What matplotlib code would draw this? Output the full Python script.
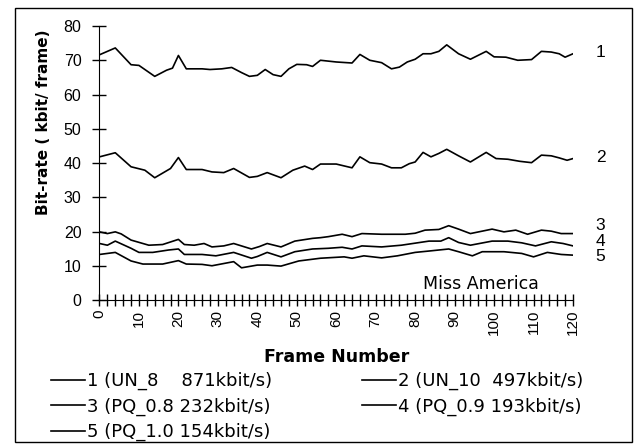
import matplotlib.pyplot as plt
from matplotlib.patches import Rectangle
from matplotlib.ticker import MultipleLocator

# series (frame number, kbit/frame)
frames_1 = [0, 4, 8, 10, 14, 17, 18.5, 20, 22, 26, 28, 31, 33.5, 36, 38, 40, 42, 44, 46, 48, 50, 52.5, 54, 56,
            60, 64, 66, 68.5, 71.5, 74, 76, 78, 80, 82, 84, 86, 88, 91, 94, 98, 100, 103, 106, 109.5, 112, 114.5,
            116.5, 118, 120]
rate_1 = [71.6, 73.6, 68.7, 68.5, 65.3, 67.1, 67.7, 71.4, 67.5, 67.5, 67.3, 67.5, 67.9, 66.4, 65.3, 65.6, 67.3,
          65.8, 65.3, 67.5, 68.8, 68.7, 68.2, 70, 69.5, 69.2, 71.7, 70, 69.3, 67.5, 68, 69.5, 70.3, 71.9, 71.9,
          72.6, 74.5, 71.9, 70.3, 72.6, 71, 70.9, 70, 70.2, 72.6, 72.4, 71.9, 70.9, 71.9]

frames_2 = [0, 4, 8, 11.5, 14, 18, 20, 22, 26, 28.5, 31.5, 34, 38, 40, 42.5, 46, 49, 52, 54, 56, 60, 64, 66, 68.5,
            71.5, 74, 76.5, 78.5, 80, 82, 84, 86, 88, 91, 94, 98, 100.5, 103.5, 106.5, 109.5, 112, 114.5, 116.5,
            118.5, 120]
rate_2 = [41.8, 43, 38.9, 37.9, 35.7, 38.4, 41.6, 38.1, 38.1, 37.4, 37.2, 38.4, 35.8, 36.1, 37.2, 35.7, 37.9, 39.1,
          38.1, 39.7, 39.7, 38.6, 41.8, 40.1, 39.7, 38.6, 38.6, 39.8, 40.3, 43.1, 41.8, 42.8, 44, 42.1, 40.3, 43.1,
          41.3, 41.1, 40.5, 40.1, 42.3, 42.1, 41.5, 40.8, 41.3]

frames_3 = [0, 2, 4, 5.5, 8, 12.5, 16, 20, 21.5, 24, 26.5, 28.5, 31.5, 34, 38.5, 40.5, 42.5, 46, 49.5, 54, 56, 58,
            61.5, 64, 66.5, 71.5, 77.5, 80, 82.5, 86, 88.5, 91, 94, 99.5, 102.5, 105.5, 108.5, 112, 114.5, 117, 120]
rate_3 = [19.9, 19.4, 19.9, 19.3, 17.5, 16, 16.2, 17.7, 16.2, 16, 16.5, 15.5, 15.8, 16.5, 14.9, 15.6, 16.5, 15.5,
          17.2, 18, 18.2, 18.5, 19.2, 18.5, 19.4, 19.2, 19.2, 19.5, 20.4, 20.6, 21.7, 20.7, 19.4, 20.7, 19.9, 20.4,
          19.2, 20.4, 20.1, 19.4, 19.4]

frames_4 = [0, 2, 4, 8, 10, 13.5, 17.5, 20, 21.5, 26, 29.5, 34, 38.5, 40, 42.5, 46, 49.5, 54, 58, 61.5, 64, 66.5,
            71.5, 76.5, 80, 83.5, 86.5, 88.5, 91, 94, 99.5, 103.5, 107, 110.5, 114.5, 117.5, 120]
rate_4 = [16.5, 16, 17.2, 15.1, 13.9, 13.9, 14.6, 14.9, 13.3, 13.3, 12.9, 13.9, 12.2, 12.7, 13.9, 12.6, 14.1, 14.9,
          15.1, 15.4, 14.9, 15.8, 15.5, 16, 16.6, 17.2, 17.2, 18.2, 16.8, 16, 17.2, 17.2, 16.7, 15.8, 17, 16.5, 15.8]

frames_5 = [0, 4, 8, 11, 16, 20, 22, 26, 28.5, 34, 36, 40, 42.5, 46, 50.5, 56, 62, 64, 67, 71.5, 75.5, 80, 83.5,
            88.5, 91, 94.5, 97, 102.5, 107, 110, 113.5, 117, 120]
rate_5 = [13.3, 13.9, 11.4, 10.5, 10.5, 11.5, 10.5, 10.4, 10, 11.2, 9.4, 10.2, 10.2, 9.9, 11.4, 12.2, 12.6, 12.2,
          12.9, 12.3, 12.9, 13.9, 14.3, 14.9, 14.1, 12.9, 14.1, 14.1, 13.6, 12.6, 13.9, 13.3, 13.1]

legend_labels = ["1 (UN_8    871kbit/s)", "2 (UN_10  497kbit/s)", "3 (PQ_0.8 232kbit/s)",
                 "4 (PQ_0.9 193kbit/s)", "5 (PQ_1.0 154kbit/s)"]
end_labels = ["1", "2", "3", "4", "5"]
end_label_y = [72.3, 41.5, 21.9, 17.0, 12.6]

plt.rcParams['font.family'] = ['Liberation Sans', 'DejaVu Sans']
wide = ['DejaVu Sans']  # the scanned text is stretched sideways

fig = plt.figure(figsize=(6.39, 4.44), dpi=100)
ax = fig.add_axes([0.1557, 0.3243, 0.7410, 0.6171])

series = [(frames_1, rate_1), (frames_2, rate_2), (frames_3, rate_3), (frames_4, rate_4), (frames_5, rate_5)]
handles = []
for (fx, fy), lab in zip(series, legend_labels):
    h, = ax.plot(fx, fy, color="black", lw=1.2, label=lab)
    handles.append(h)

ax.set_xlim(0, 120)
ax.set_ylim(0, 80)
ax.spines['top'].set_visible(False)
ax.spines['right'].set_visible(False)
ax.xaxis.set_major_locator(MultipleLocator(10))
ax.xaxis.set_minor_locator(MultipleLocator(2))
ax.yaxis.set_major_locator(MultipleLocator(10))
ax.tick_params(axis='both', which='both', direction='inout', width=1, colors='black')
ax.tick_params(axis='x', which='major', length=8, labelsize=11, labelrotation=90, pad=3)
ax.tick_params(axis='x', which='minor', length=8)
ax.tick_params(axis='y', length=10, labelsize=11.5, pad=8)
ax.set_xlabel("Frame Number", fontsize=12.5, fontweight='bold', family=wide, labelpad=9)
ax.set_ylabel("Bit-rate ( kbit/ frame)", fontsize=11, fontweight='bold', family=wide, labelpad=9, y=0.65)

ax.text(96.7, 4.8, "Miss America", fontsize=12.5, family=wide, ha='center', va='center')
for t, yv in zip(end_labels, end_label_y):
    ax.text(127, yv, t, fontsize=12.5, ha='center', va='center', clip_on=False)

order = [0, 2, 4, 1, 3]
fig.legend([handles[i] for i in order], [legend_labels[i] for i in order], ncol=2, loc='upper left',
           bbox_to_anchor=(0.080, 0.162), frameon=False, prop={'family': wide, 'size': 13},
           handlelength=1.88, handletextpad=0.11, columnspacing=5.0, labelspacing=0.40,
           borderaxespad=0, borderpad=0)

fig.patches.append(Rectangle((15 / 639, 0.005), (632 - 15) / 639, 0.977, transform=fig.transFigure,
                             fill=False, edgecolor='black', lw=1))

plt.savefig("out.png", dpi=100)
